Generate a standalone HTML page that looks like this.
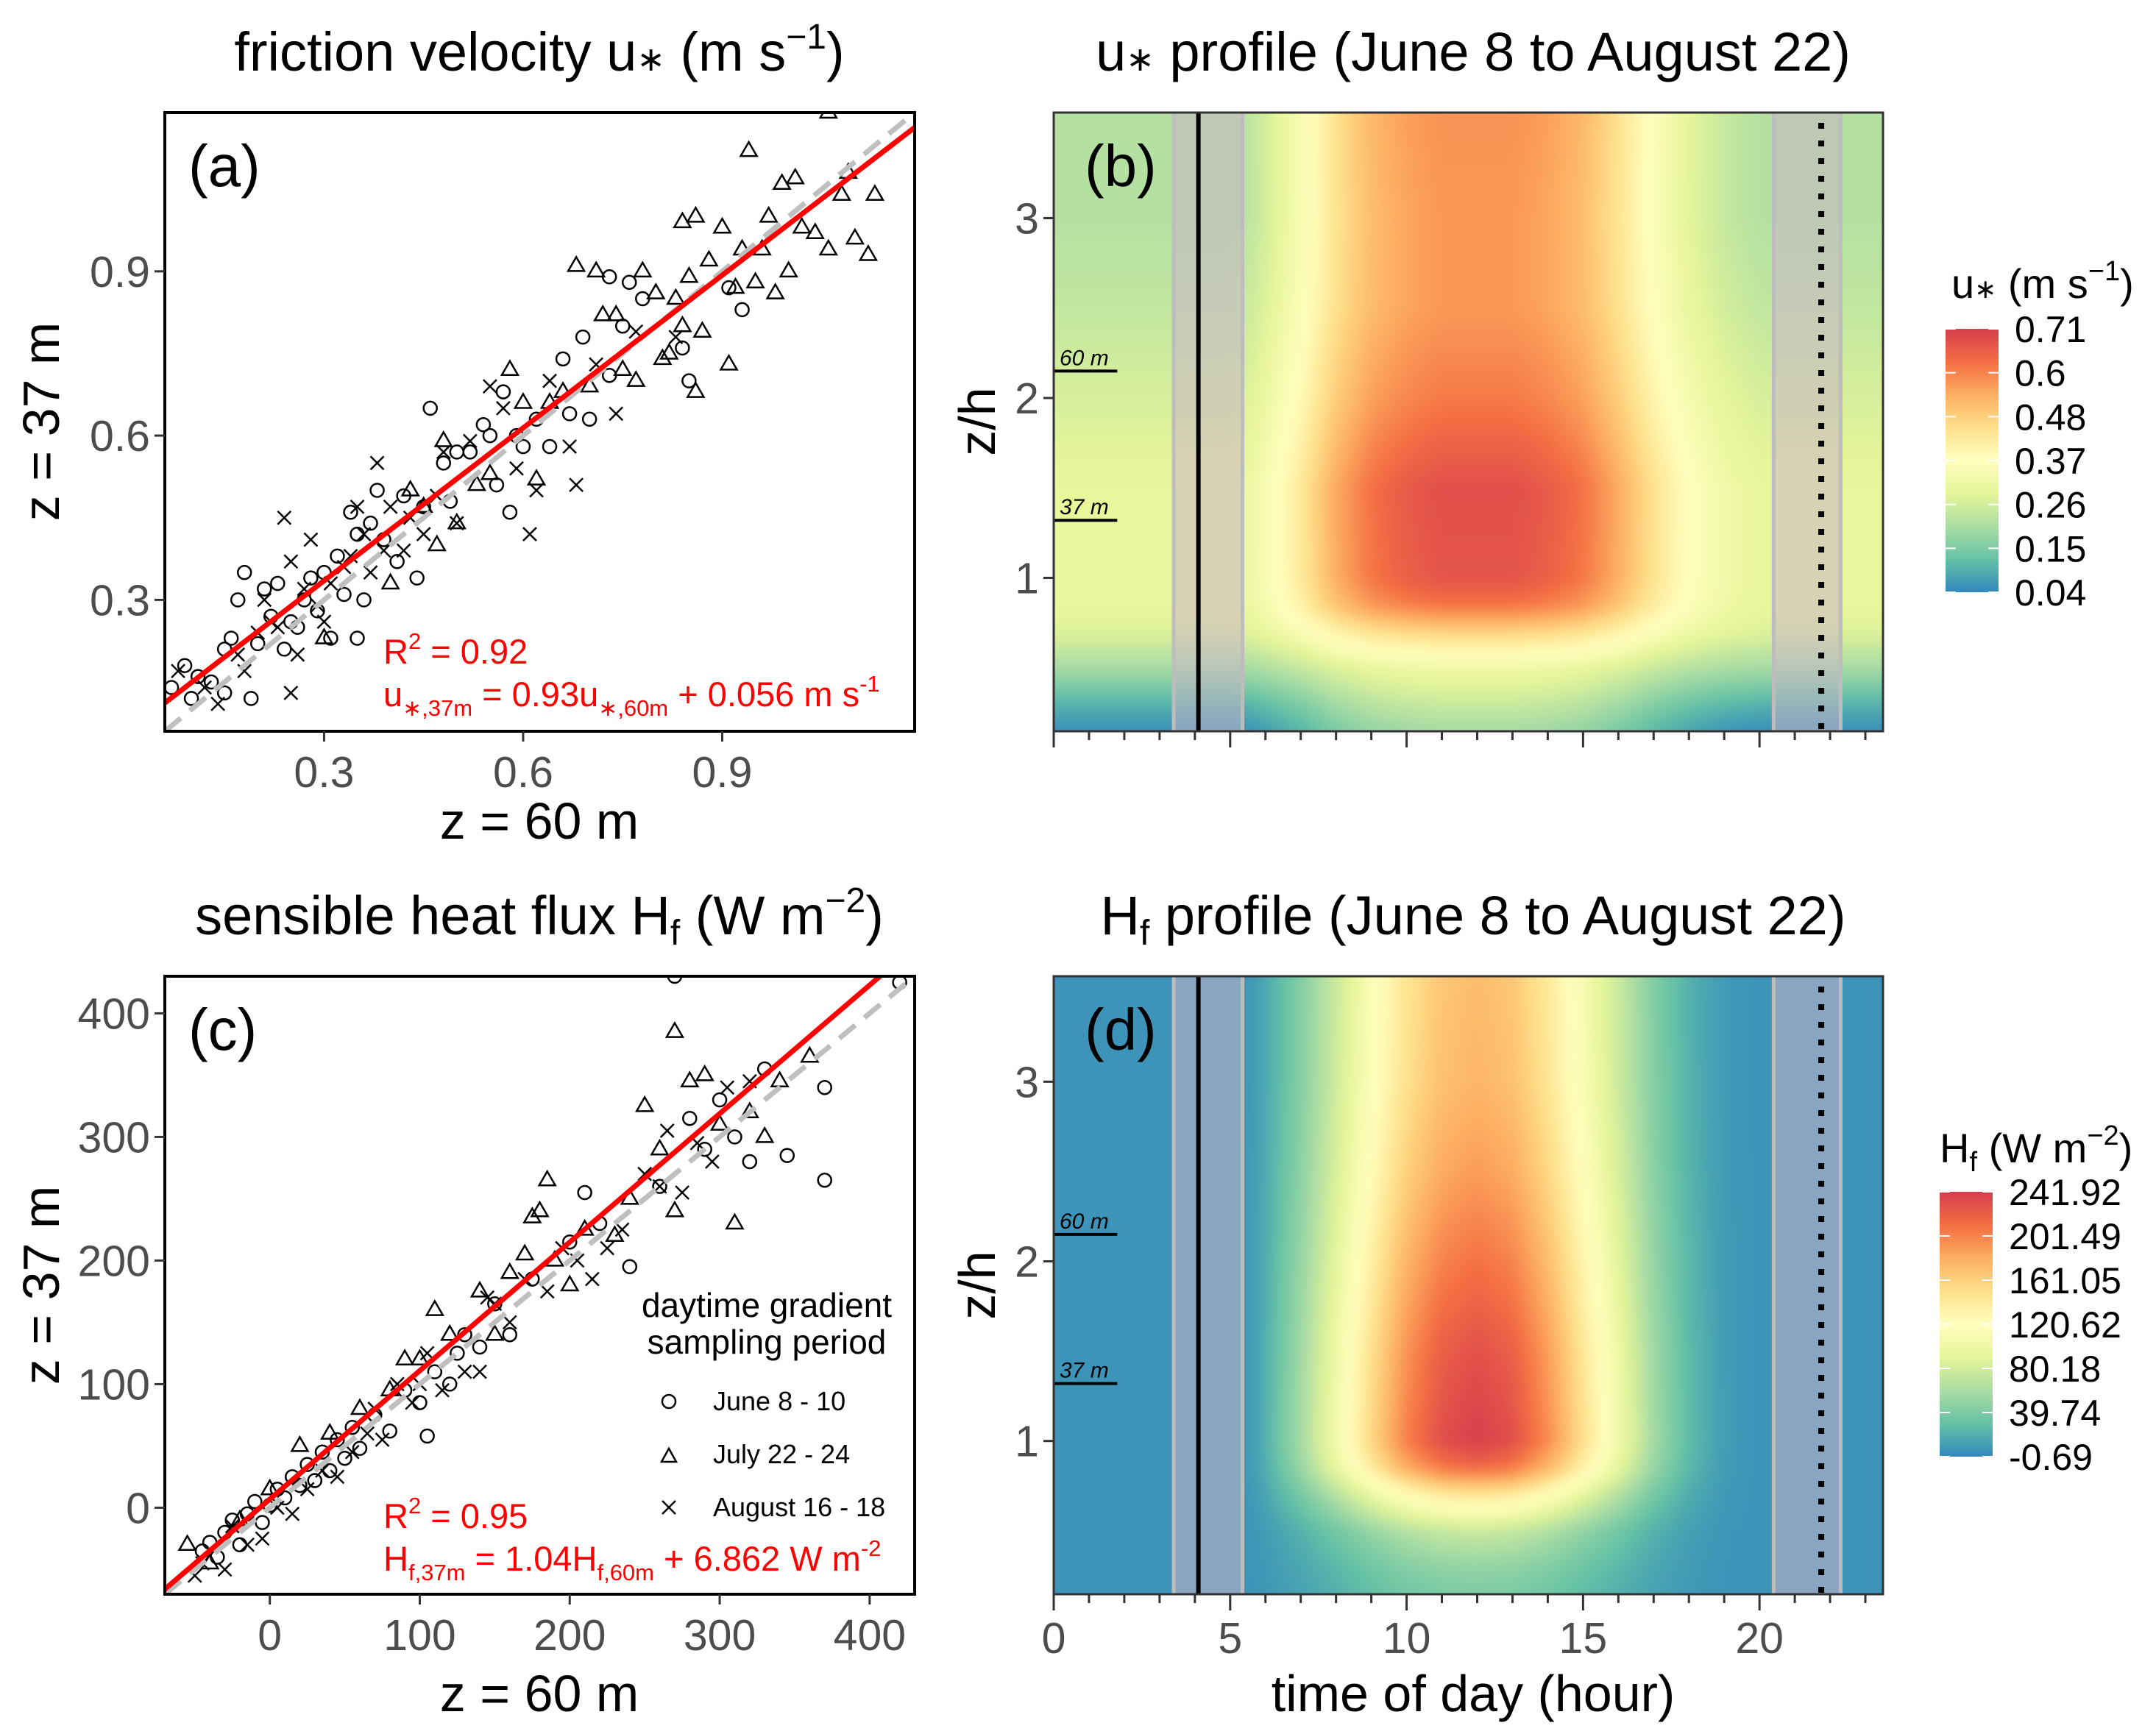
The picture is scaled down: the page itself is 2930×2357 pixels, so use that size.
<!DOCTYPE html>
<html><head><meta charset="utf-8"><title>Friction velocity and sensible heat flux</title>
<style>
html,body{margin:0;padding:0;background:#fff;}
svg{display:block;font-family:"Liberation Sans",Arial,sans-serif;}
.tick{fill:#4d4d4d;font-size:59px;}
.axt{fill:#000;font-size:70px;}
.ttl{fill:#000;font-size:74px;}
</style></head>
<body>
<svg id="fig" xmlns="http://www.w3.org/2000/svg" width="2930" height="2357" viewBox="0 0 2930 2357">
<defs>
  <clipPath id="clipB"><rect x="1432" y="153" width="1127" height="841"/></clipPath>
  <clipPath id="clipD"><rect x="1432" y="1327" width="1127" height="840"/></clipPath>
  <clipPath id="clipA"><rect x="224" y="153" width="1019" height="841"/></clipPath>
  <clipPath id="clipC"><rect x="224" y="1327" width="1019" height="840"/></clipPath>
  <filter id="blur" x="-5%" y="-5%" width="110%" height="110%"><feGaussianBlur stdDeviation="6"/></filter>
  <linearGradient id="spec" x1="0" y1="1" x2="0" y2="0">
    <stop offset="0" stop-color="#3288bd"/><stop offset="0.125" stop-color="#66c2a5"/>
    <stop offset="0.25" stop-color="#abdda4"/><stop offset="0.375" stop-color="#e6f598"/>
    <stop offset="0.5" stop-color="#ffffbf"/><stop offset="0.625" stop-color="#fee08b"/>
    <stop offset="0.75" stop-color="#fdae61"/><stop offset="0.875" stop-color="#f46d43"/>
    <stop offset="1" stop-color="#d53e4f"/>
  </linearGradient>
</defs>

<!-- titles -->
<text class="ttl" x="733" y="96" text-anchor="middle">friction velocity u<tspan font-size="46">∗</tspan> (m s<tspan font-size="48" dy="-30">−1</tspan><tspan dy="30">)</tspan></text>
<text class="ttl" x="2002" y="96" text-anchor="middle">u<tspan font-size="46">∗</tspan> profile (June 8 to August 22)</text>
<text class="ttl" x="733" y="1270" text-anchor="middle">sensible heat flux H<tspan font-size="48" dy="14">f</tspan><tspan dy="-14"> (W m</tspan><tspan font-size="48" dy="-30">−2</tspan><tspan dy="30">)</tspan></text>
<text class="ttl" x="2002" y="1270" text-anchor="middle">H<tspan font-size="48" dy="14">f</tspan><tspan dy="-14"> profile (June 8 to August 22)</tspan></text>

<!-- axis titles -->
<text class="axt" x="733" y="1140" text-anchor="middle">z = 60 m</text>
<text class="axt" x="733" y="2326" text-anchor="middle">z = 60 m</text>
<text class="axt" x="2002" y="2326" text-anchor="middle">time of day (hour)</text>
<text class="axt" transform="translate(80,573) rotate(-90)" text-anchor="middle">z = 37 m</text>
<text class="axt" transform="translate(80,1747) rotate(-90)" text-anchor="middle">z = 37 m</text>
<text class="axt" transform="translate(1352,573) rotate(-90)" text-anchor="middle">z/h</text>
<text class="axt" transform="translate(1352,1747) rotate(-90)" text-anchor="middle">z/h</text>

<g id="gB"></g>
<g id="gD"></g>
<g id="gA"></g>
<g id="gC"></g>

<!-- legend for c -->
<g font-size="46">
  <text x="1042" y="1790" text-anchor="middle">daytime gradient</text>
  <text x="1042" y="1840" text-anchor="middle">sampling period</text>
  <g><circle cx="909" cy="1905" r="9" fill="none" stroke="#000" stroke-width="2.5"/><text x="969" y="1917" font-size="36">June 8 - 10</text></g>
  <g><path d="M899,1987 L909,1969 L919,1987 Z" fill="none" stroke="#000" stroke-width="2.5"/><text x="969" y="1989" font-size="36">July 22 - 24</text></g>
  <g><path d="M900,2040 L918,2058 M918,2040 L900,2058" stroke="#000" stroke-width="2.5"/><text x="969" y="2061" font-size="36">August 16 - 18</text></g>
</g>

<!-- color legends -->
<g>
  <text x="2652" y="405" font-size="56">u<tspan font-size="36">∗</tspan> (m s<tspan font-size="38" dy="-24">−1</tspan><tspan dy="24">)</tspan></text>
  <rect x="2644" y="447" width="72" height="358" fill="url(#spec)"/>
  <g id="cbB"></g>
</g>
<g>
  <text x="2636" y="1580" font-size="56">H<tspan font-size="38" dy="12">f</tspan><tspan dy="-12"> (W m</tspan><tspan font-size="38" dy="-24">−2</tspan><tspan dy="24">)</tspan></text>
  <rect x="2636" y="1620" width="72" height="360" fill="url(#spec)"/>
  <g id="cbD"></g>
</g>
</svg>

<script>
// ---------- data ----------
const aCircles = [[0.07,0.14],[0.09,0.18],[0.1,0.12],[0.11,0.16],[0.13,0.15],[0.15,0.21],[0.15,0.13],[0.16,0.23],[0.17,0.3],[0.18,0.35],[0.19,0.12],[0.2,0.22],[0.21,0.32],[0.22,0.27],[0.23,0.33],[0.24,0.21],[0.25,0.26],[0.26,0.25],[0.27,0.3],[0.28,0.34],[0.29,0.28],[0.3,0.35],[0.31,0.23],[0.32,0.38],[0.33,0.31],[0.34,0.46],[0.35,0.42],[0.35,0.23],[0.36,0.3],[0.37,0.44],[0.38,0.5],[0.39,0.41],[0.41,0.37],[0.42,0.49],[0.44,0.34],[0.45,0.47],[0.46,0.65],[0.48,0.55],[0.49,0.48],[0.5,0.57],[0.52,0.57],[0.54,0.62],[0.55,0.6],[0.56,0.51],[0.57,0.68],[0.58,0.46],[0.59,0.6],[0.6,0.58],[0.62,0.63],[0.64,0.58],[0.66,0.74],[0.67,0.64],[0.69,0.78],[0.7,0.63],[0.73,0.71],[0.75,0.8],[0.76,0.88],[0.78,0.85],[0.84,0.76],[0.85,0.7],[0.91,0.87],[0.93,0.83],[0.73,0.89]];
const aTriangles = [[0.3,0.23],[0.4,0.33],[0.43,0.5],[0.45,0.47],[0.47,0.4],[0.48,0.59],[0.5,0.44],[0.53,0.51],[0.55,0.53],[0.58,0.72],[0.6,0.66],[0.62,0.52],[0.64,0.66],[0.66,0.68],[0.68,0.91],[0.7,0.69],[0.71,0.9],[0.72,0.82],[0.74,0.82],[0.75,0.72],[0.77,0.7],[0.78,0.9],[0.8,0.86],[0.81,0.74],[0.82,0.75],[0.83,0.85],[0.84,0.8],[0.85,0.89],[0.86,0.68],[0.87,0.79],[0.88,0.92],[0.9,0.98],[0.91,0.73],[0.92,0.87],[0.93,0.94],[0.95,0.88],[0.96,0.94],[0.97,1.0],[0.98,0.86],[0.99,1.06],[1.0,0.9],[1.01,1.07],[1.02,0.98],[1.04,0.97],[1.06,0.94],[1.08,1.04],[1.09,1.08],[1.1,0.96],[1.12,0.93],[1.13,1.04],[0.94,1.12],[0.86,1.0],[0.84,0.99],[1.06,1.19]];
const aCrosses = [[0.08,0.17],[0.12,0.14],[0.14,0.11],[0.17,0.2],[0.18,0.17],[0.2,0.24],[0.21,0.3],[0.22,0.26],[0.23,0.25],[0.24,0.45],[0.25,0.37],[0.25,0.13],[0.26,0.2],[0.27,0.32],[0.28,0.41],[0.29,0.29],[0.3,0.26],[0.31,0.33],[0.33,0.36],[0.34,0.38],[0.35,0.47],[0.36,0.42],[0.37,0.35],[0.38,0.55],[0.39,0.39],[0.4,0.47],[0.42,0.39],[0.43,0.45],[0.45,0.42],[0.47,0.49],[0.48,0.57],[0.5,0.44],[0.52,0.59],[0.55,0.69],[0.57,0.65],[0.59,0.54],[0.61,0.42],[0.62,0.5],[0.64,0.7],[0.67,0.58],[0.68,0.51],[0.71,0.73],[0.74,0.64],[0.77,0.79],[0.83,0.78]];
const aFit = [0.93, 0.056];
const aTicks = [0.3, 0.6, 0.9];
const aTickLabels = ["0.3","0.6","0.9"];

const cCircles = [[-45,-35],[-40,-28],[-35,-40],[-30,-20],[-25,-10],[-20,-30],[-15,-5],[-10,5],[-5,-12],[0,2],[5,15],[10,8],[15,25],[20,18],[25,35],[30,22],[35,45],[40,30],[45,55],[50,40],[55,65],[60,48],[70,75],[80,62],[90,95],[100,85],[110,110],[120,100],[130,140],[140,130],[150,165],[160,140],[175,185],[200,215],[210,255],[220,230],[240,195],[260,260],[280,315],[290,290],[300,330],[310,300],[320,280],[330,355],[370,265],[370,340],[345,285],[270,430],[420,425],[105,58],[125,125]];
const cTriangles = [[-55,-30],[-40,-45],[-20,-10],[0,15],[20,50],[40,60],[60,80],[80,95],[100,120],[110,160],[120,140],[140,175],[160,190],[170,205],[175,235],[180,240],[185,265],[190,200],[200,180],[210,225],[230,220],[240,250],[250,325],[260,290],[270,385],[280,345],[290,350],[300,310],[310,230],[320,320],[330,300],[340,345],[360,365],[270,240],[150,140],[90,120]];
const cCrosses = [[-50,-55],[-45,-45],[-30,-50],[-25,-15],[-15,-30],[-5,-25],[5,0],[15,-5],[25,15],[35,30],[45,25],[55,45],[65,60],[75,55],[85,100],[95,85],[105,125],[115,95],[130,110],[140,110],[150,165],[160,150],[170,185],[185,175],[195,210],[205,200],[215,185],[225,210],[235,225],[250,270],[260,260],[265,305],[275,255],[285,295],[295,280],[305,340],[320,345],[100,100],[70,80],[145,170]];
const cFit = [1.04, 6.862];
const cTicks = [0, 100, 200, 300, 400];
const cTickLabels = ["0","100","200","300","400"];

const hourKnots = [-1,0,2,4,5,5.5,6,7,8,9,10,11,12,13,14,15,16,17,18,19,20,22,24,25];
const uDayAmp   = [0,0,0,0,0,0.03,0.12,0.35,0.65,0.85,0.95,1,1,1,0.95,0.85,0.65,0.4,0.2,0.07,0,0,0,0];
const hDayAmp   = [0,0,0,0,0,0.01,0.06,0.22,0.42,0.64,0.84,0.96,1,0.96,0.82,0.62,0.42,0.22,0.09,0.02,0,0,0,0];
const zKnots    = [0,0.15,0.3,0.5,0.7,0.85,1.0,1.5,2.0,2.5,3.0,3.6,4];
const uNight    = [0.04,0.05,0.1,0.2,0.28,0.3,0.3,0.3,0.27,0.24,0.22,0.22,0.22];
const uDay      = [0.15,0.15,0.15,0.12,0.2,0.32,0.37,0.38,0.34,0.33,0.35,0.36,0.36];
const hNight    = [5,5,5,5,5,5,5,5,5,5,5,5,5];
const hDay      = [30,35,45,70,140,210,236,225,205,185,172,168,168];
const uLegend = ["0.71","0.6","0.48","0.37","0.26","0.15","0.04"];
const hLegend = ["241.92","201.49","161.05","120.62","80.18","39.74","-0.69"];
const yTicksProfile = [1,2,3];
const xMajorHours = [0,5,10,15,20];
const bands = [[3.4,5.35],[20.4,22.3]];
const solidLineHour = 4.1;
const dottedLineHour = 21.75;
const heightMarks = [["60 m",2.15],["37 m",1.32]];

// ---------- helpers ----------
const NS = "http://www.w3.org/2000/svg";
function mk(tag, attrs, parent){ const e=document.createElementNS(NS,tag); for(const k in attrs) e.setAttribute(k,attrs[k]); if(parent) parent.appendChild(e); return e; }
function interp(xs, ys, x){ if(x<=xs[0]) return ys[0]; for(let i=1;i<xs.length;i++){ if(x<=xs[i]){ const t=(x-xs[i-1])/(xs[i]-xs[i-1]); return ys[i-1]+t*(ys[i]-ys[i-1]); } } return ys[ys.length-1]; }
const specStops = ["#3288bd","#66c2a5","#abdda4","#e6f598","#ffffbf","#fee08b","#fdae61","#f46d43","#d53e4f"].map(h=>[parseInt(h.substr(1,2),16),parseInt(h.substr(3,2),16),parseInt(h.substr(5,2),16)]);
function spec(f){ f=Math.max(0,Math.min(1,f)); const p=f*(specStops.length-1); const i=Math.min(Math.floor(p),specStops.length-2); const t=p-i; const a=specStops[i], b=specStops[i+1]; return "rgb("+Math.round(a[0]+(b[0]-a[0])*t)+","+Math.round(a[1]+(b[1]-a[1])*t)+","+Math.round(a[2]+(b[2]-a[2])*t)+")"; }

// ---------- scatter panels ----------
function scatterPanel(g, box, dom, circles, triangles, crosses, fit, ticks, labels, clipId, label, rTxt, eqParts){
  const [X0,Y0,W,H]=box, [d0,d1]=dom;
  const sx=v=>X0+(v-d0)/(d1-d0)*W, sy=v=>Y0+H-(v-d0)/(d1-d0)*H;
  const bg=mk("rect",{x:X0,y:Y0,width:W,height:H,fill:"#fff"},g);
  
  
  const pts=mk("g",{"clip-path":"url(#"+clipId+")"},g);
  
  
  circles.forEach(p=>{ const c=mk("circle",{cx:sx(p[0]),cy:sy(p[1]),r:9,fill:"none",stroke:"#000","stroke-width":2.5},pts);
    
     });
  triangles.forEach(p=>{ const x=sx(p[0]),y=sy(p[1]); const t=mk("path",{d:`M${x-11},${y+7} L${x},${y-12} L${x+11},${y+7} Z`,fill:"none",stroke:"#000","stroke-width":2.5},pts);
    
     });
  crosses.forEach(p=>{ const x=sx(p[0]),y=sy(p[1]); const t=mk("path",{d:`M${x-9},${y-9} L${x+9},${y+9} M${x+9},${y-9} L${x-9},${y+9}`,stroke:"#000","stroke-width":2.5},pts);
    
     });
  const one=mk("line",{x1:sx(d0),y1:sy(d0),x2:sx(d1),y2:sy(d1),stroke:"#bfbfbf","stroke-width":7,"stroke-dasharray":"28,16"},pts);
  
  
  const fl=mk("line",{x1:sx(d0),y1:sy(fit[0]*d0+fit[1]),x2:sx(d1),y2:sy(fit[0]*d1+fit[1]),stroke:"#ff0000","stroke-width":7},pts);
  
  
  const fr=mk("rect",{x:X0,y:Y0,width:W,height:H,fill:"none",stroke:"#000","stroke-width":4},g);
  
  
  ticks.forEach((v,i)=>{
    mk("line",{x1:sx(v),y1:Y0+H,x2:sx(v),y2:Y0+H+14,stroke:"#333","stroke-width":3},g);
    const tx=mk("text",{x:sx(v),y:Y0+H+76,"text-anchor":"middle",class:"tick"},g); tx.textContent=labels[i];
    
    
    mk("line",{x1:X0-14,y1:sy(v),x2:X0,y2:sy(v),stroke:"#333","stroke-width":3},g);
    const ty=mk("text",{x:X0-20,y:sy(v)+21,"text-anchor":"end",class:"tick"},g); ty.textContent=labels[i];
    
    
  });
  const pl=mk("text",{x:X0+32,y:Y0+100,"font-size":80},g); pl.textContent=label;
  
  
  const r=mk("text",{x:rTxt[0],y:rTxt[1],fill:"#ff0000","font-size":47},g);
  r.innerHTML='R<tspan font-size="31" dy="-20">2</tspan><tspan dy="20"> = '+eqParts[0]+'</tspan>';
  
  
  const e=mk("text",{x:rTxt[0],y:rTxt[1]+58,fill:"#ff0000","font-size":47},g);
  e.innerHTML=eqParts[1];
  
  
}
scatterPanel(document.getElementById("gA"),[224,153,1019,841],[0.06,1.19],aCircles,aTriangles,aCrosses,aFit,aTicks,aTickLabels,"clipA","(a)",[521,902],
 ["0.92",'u<tspan font-size="31" dy="13">∗,37m</tspan><tspan dy="-13"> = 0.93u</tspan><tspan font-size="31" dy="13">∗,60m</tspan><tspan dy="-13"> + 0.056 m s</tspan><tspan font-size="31" dy="-20">-1</tspan>']);
scatterPanel(document.getElementById("gC"),[224,1327,1019,840],[-70,430],cCircles,cTriangles,cCrosses,cFit,cTicks,cTickLabels,"clipC","(c)",[521,2077],
 ["0.95",'H<tspan font-size="31" dy="13">f,37m</tspan><tspan dy="-13"> = 1.04H</tspan><tspan font-size="31" dy="13">f,60m</tspan><tspan dy="-13"> + 6.862 W m</tspan><tspan font-size="31" dy="-20">-2</tspan>']);

// ---------- profile panels ----------
function profilePanel(g, box, clipId, dayAmp, night, day, vmin, vmax, label, showXLabels){
  const [X0,Y0,W,H]=box, h1=23.5, z0=0.147, z1=3.587;
  const sx=h=>X0+h/h1*W, sy=z=>Y0+H-(z-z0)/(z1-z0)*H;
  const outer=mk("g",{"clip-path":"url(#"+clipId+")"},g);
  const cells=mk("g",{filter:"url(#blur)"},outer);
  
  
  const dh=0.25, dz=0.05;
  for(let h=-1; h<24.5; h+=dh){
    const amp=interp(hourKnots,dayAmp,h+dh/2);
    for(let z=0; z<3.9; z+=dz){
      const zc=z+dz/2;
      const v=interp(zKnots,night,zc)+amp*interp(zKnots,day,zc);
      const c=mk("rect",{x:sx(h)-0.5,y:sy(z+dz)-0.5,width:sx(h+dh)-sx(h)+1,height:sy(z)-sy(z+dz)+1,fill:spec((v-vmin)/(vmax-vmin))},cells);
      
      
    }
  }
  bands.forEach(b=>{
    const r=mk("rect",{x:sx(b[0]),y:Y0,width:sx(b[1])-sx(b[0]),height:H,fill:"rgba(200,180,200,0.55)"},outer);
    
    
    [b[0],b[1]].forEach(e=>mk("line",{x1:sx(e),y1:Y0,x2:sx(e),y2:Y0+H,stroke:"#bdbdbd","stroke-width":5},outer));
  });
  const sl=mk("line",{x1:sx(solidLineHour),y1:Y0,x2:sx(solidLineHour),y2:Y0+H,stroke:"#000","stroke-width":6},outer);
  
  
  const dl=mk("line",{x1:sx(dottedLineHour),y1:Y0+14,x2:sx(dottedLineHour),y2:Y0+H,stroke:"#000","stroke-width":8,"stroke-dasharray":"8,16"},outer);
  
  
  heightMarks.forEach(m=>{
    const y=sy(m[1]);
    mk("line",{x1:X0,y1:y,x2:sx(1.8),y2:y,stroke:"#000","stroke-width":4},outer);
    const t=mk("text",{x:X0+8,y:y-8,"font-size":30,"font-style":"italic"},outer); t.textContent=m[0];
    
    
  });
  const fr=mk("rect",{x:X0,y:Y0,width:W,height:H,fill:"none",stroke:"#333","stroke-width":3},g);
  
  
  for(let h=0; h<=23; h++){
    const major=xMajorHours.indexOf(h)>=0;
    mk("line",{x1:sx(h),y1:Y0+H,x2:sx(h),y2:Y0+H+(major?22:12),stroke:"#333","stroke-width":3},g);
    if(major && showXLabels){ const t=mk("text",{x:sx(h),y:Y0+H+80,"text-anchor":"middle",class:"tick"},g); t.textContent=String(h);
      
       }
  }
  yTicksProfile.forEach(z=>{
    mk("line",{x1:X0-14,y1:sy(z),x2:X0,y2:sy(z),stroke:"#333","stroke-width":3},g);
    const t=mk("text",{x:X0-20,y:sy(z)+21,"text-anchor":"end",class:"tick"},g); t.textContent=String(z);
    
    
  });
  const pl=mk("text",{x:X0+42,y:Y0+100,"font-size":80},g); pl.textContent=label;
  
  
}
profilePanel(document.getElementById("gB"),[1432,153,1127,841],"clipB",uDayAmp,uNight,uDay,0.04,0.71,"(b)",false);
profilePanel(document.getElementById("gD"),[1432,1327,1127,840],"clipD",hDayAmp,hNight,hDay,-0.69,241.92,"(d)",true);

// ---------- colorbar labels ----------
function cbar(id, x, y0, h, w, labels){
  const g=document.getElementById(id);
  labels.forEach((l,i)=>{
    const y=y0+i*h/(labels.length-1);
    mk("line",{x1:x,y1:y,x2:x+14,y2:y,stroke:"#fff","stroke-width":2},g);
    mk("line",{x1:x+w-14,y1:y,x2:x+w,y2:y,stroke:"#fff","stroke-width":2},g);
    const t=mk("text",{x:x+w+22,y:y+18,"font-size":50},g); t.textContent=l;
    
    
  });
}
cbar("cbB",2644,447,358,72,uLegend);
cbar("cbD",2636,1620,360,72,hLegend);
</script>
</body></html>
